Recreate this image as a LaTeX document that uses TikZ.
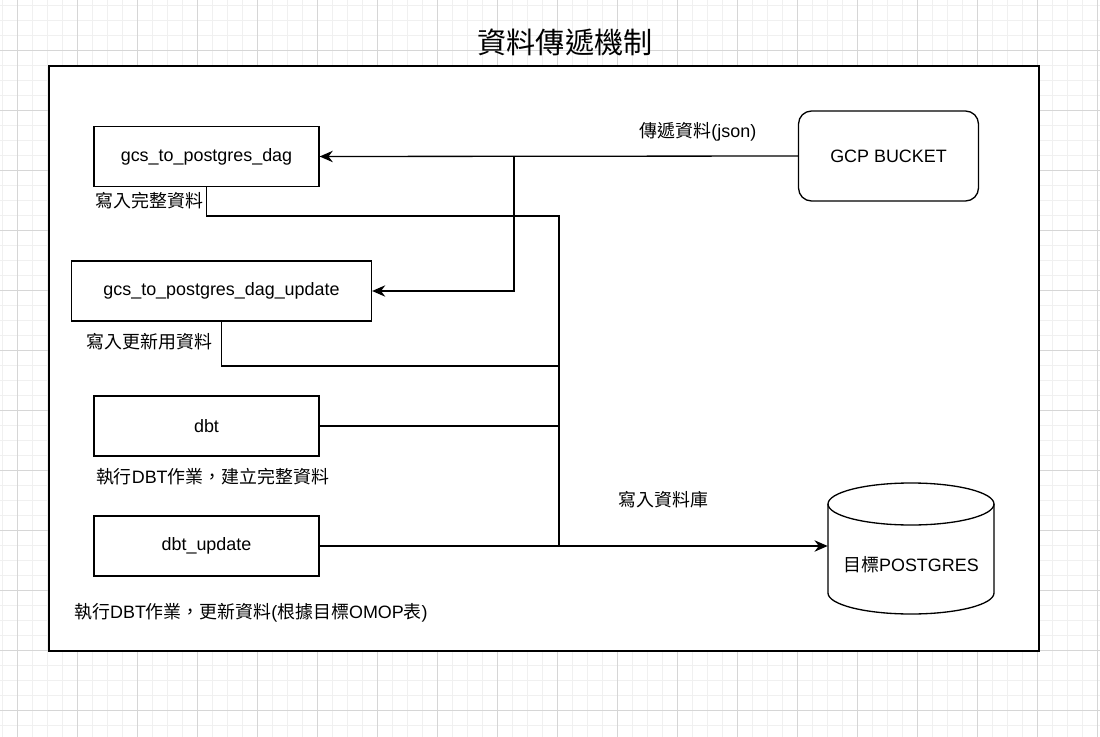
\documentclass[tikz,border=0pt]{standalone}
\usepackage{fontspec}
\setmainfont{Liberation Sans}
\newfontfamily\zhfont{Noto Sans CJK TC}
\newcommand{\zh}[1]{{\zhfont #1}}
\usetikzlibrary{arrows.meta}

\tikzset{
  minorgrid/.style={draw=black!6, line width=0.5pt},
  majorgrid/.style={draw=black!16, line width=0.5pt},
  box/.style={draw, line width=0.75pt, minimum height=1.2cm, inner sep=0pt},
  wire/.style={line width=0.75pt},
  flow/.style={wire, -{Stealth[length=7.5pt, width=6.5pt]}},
}

\begin{document}
\begin{tikzpicture}[x=0.02cm, y=-0.02cm, font=\fontsize{10.2}{12.2}\selectfont]
\useasboundingbox (0,0) rectangle (1100,737);
\fill[white] (0,0) rectangle (1100,737);
\foreach \gx in {2.3,17.3,...,1100} \draw[minorgrid] (\gx,0) -- (\gx,737);
\foreach \gy in {5.7,20.7,...,737} \draw[minorgrid] (0,\gy) -- (1100,\gy);
\foreach \gx in {17.3,77.3,...,1100} \draw[majorgrid] (\gx,0) -- (\gx,737);
\foreach \gy in {50.7,110.7,...,737} \draw[majorgrid] (0,\gy) -- (1100,\gy);

\node[font=\fontsize{16.6}{20}\selectfont\zhfont] (title) at (565,42) {資料傳遞機制};
\draw[fill=white, line width=1pt] (49,66) rectangle (1039,651);

\node[box, minimum width=4.5cm] (dag) at (206.5,156.5) {gcs\_to\_postgres\_dag};
\node[box, minimum width=6cm] (upd) at (221.5,291) {gcs\_to\_postgres\_dag\_update};
\node[box, minimum width=4.5cm] (dbt) at (206.5,426) {dbt};
\node[box, minimum width=4.5cm] (dbtupd) at (206.5,546) {dbt\_update};
\node[box, rounded corners=7.4pt, minimum width=3.6cm, minimum height=1.8cm]
  (gcp) at (888.5,156) {GCP BUCKET};

\draw[wire, fill=white] (828,504) -- (828,593)
  arc[start angle=180, end angle=0, x radius=83, y radius=21] -- (994,504);
\draw[wire] (911,504) ellipse [x radius=83, y radius=21];
\node[minimum width=3.32cm, minimum height=2.2cm, inner sep=0pt] (db) at (911,549) {};
\node (dbname) at (911,565) {\zh{目標}POSTGRES};

\node (lbljson) at (698,132) {\zh{傳遞資料}(json)};
\node (lblfull) at (149.5,200.5) {\zh{寫入完整資料}};
\node (lblupd) at (149.5,342) {\zh{寫入更新用資料}};
\node (lbldbt) at (212.5,477) {\zh{執行}DBT\zh{作業，建立完整資料}};
\node (lbldbtupd) at (251,613) {\zh{執行}DBT\zh{作業，更新資料}(\zh{根據目標}OMOP\zh{表})};
\node (lbldb) at (663.5,500) {\zh{寫入資料庫}};

\coordinate (split) at (514,156);
\coordinate (busfull) at (559,216);
\coordinate (busupd) at (559,366);

\draw[flow] (gcp.west) -- (dag.east);
\draw[flow] (split) |- (upd.east);
\draw[wire] (dag.south) |- (busfull) -- (busfull |- dbtupd.east);
\draw[wire] (upd.south) |- (busupd);
\draw[wire] (dbt.east) -- (dbt.east -| busupd);
\draw[flow] (dbtupd.east) -- (dbtupd.east -| db.west);
\end{tikzpicture}
\end{document}
